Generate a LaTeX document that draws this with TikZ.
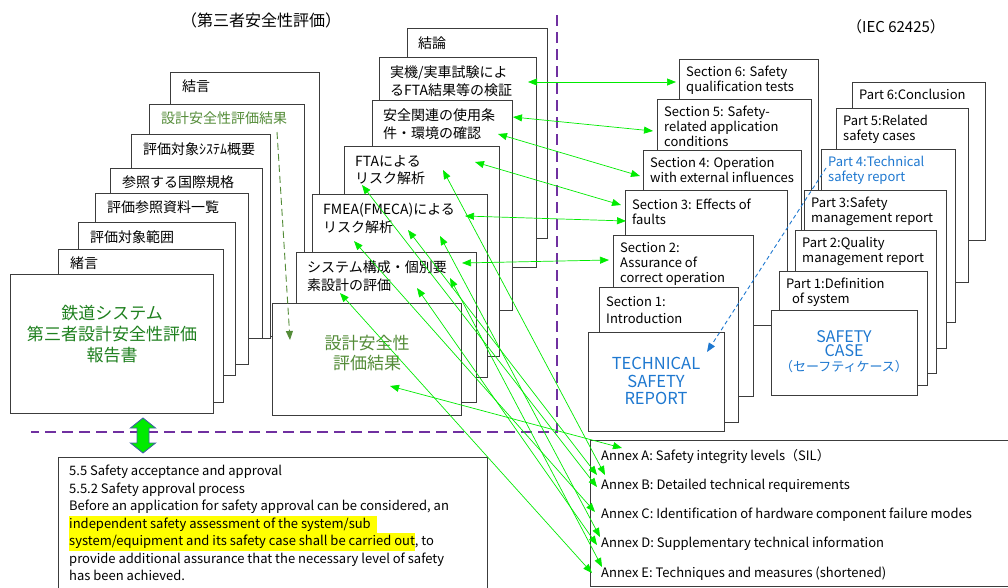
\documentclass[tikz,border=0pt]{standalone}
\usepackage{fontspec}
\setmainfont{Noto Sans CJK JP}
\usetikzlibrary{arrows.meta}

\definecolor{linkgreen}{RGB}{0,235,0}
\definecolor{sepviolet}{RGB}{112,48,160}
\definecolor{evalgreen}{RGB}{84,140,56}
\definecolor{titlegreen}{RGB}{30,128,30}
\definecolor{reportblue}{RGB}{30,120,208}
\definecolor{hilite}{RGB}{255,255,0}
\definecolor{boxgray}{RGB}{60,60,60}
\definecolor{arrowrim}{RGB}{65,100,160}

% one sheet of a stack: style of text, name, x1, y1, x2, y2, text
\newcommand{\stackpage}[7]{%
  \node[pagebox, minimum width={#5-#3}, minimum height={#6-#4}] (#2) at (#3,#4) {};
  \node[#1] (#2-txt) at (#2.north west) {#7};
}
\newcommand{\yellowmark}[1]{{\setlength{\fboxsep}{0pt}\colorbox{hilite}{\strut #1}}}

\begin{document}
\begin{tikzpicture}[x=1pt, y=-1pt,
    pagebox/.style={draw=boxgray, line width=0.9pt, fill=white, anchor=north west, inner sep=0pt},
    ltext/.style={anchor=north west, xshift=12pt, yshift=-8pt, inner sep=0pt, align=left, font=\fontsize{14}{18}\selectfont},
    mtext/.style={anchor=north west, xshift=11pt, yshift=-9pt, inner sep=0pt, align=left, font=\fontsize{14}{17.5}\selectfont},
    rtext/.style={anchor=north west, xshift=7pt, yshift=-7pt, inner sep=0pt, align=left, font=\fontsize{13}{15}\selectfont},
    link/.style={draw=linkgreen, line width=0.7pt, {Triangle[length=9pt,width=7pt]}-{Triangle[length=9pt,width=7pt]}},
    evalarrow/.style={draw=evalgreen, line width=0.9pt, dash pattern=on 7pt off 4pt, -{Triangle[length=9pt,width=7pt]}},
    partarrow/.style={draw=reportblue, line width=0.9pt, dash pattern=on 4pt off 3pt, -{Triangle[length=9pt,width=7pt]}},
    divider/.style={draw=sepviolet, line width=1.3pt, dash pattern=on 11pt off 6pt}]
  \useasboundingbox (0,0) rectangle (1008,587);
  \clip (0,0) rectangle (1008,587);

  % headings
  \node[font=\fontsize{16}{18}\selectfont] (thirdparty) at (261,20) {（第三者安全性評価）};
  \node[font=\fontsize{15}{18}\selectfont] (iec) at (896,27) {（IEC 62425）};

  % third party report (left stack)
  \stackpage{ltext}{concl}{170}{72}{319}{336}{結言}
  \stackpage{ltext, text=evalgreen}{evalres}{149}{104}{304}{336}{設計安全性評価結果}
  \stackpage{ltext}{sysov}{131}{134}{270}{338}{評価対象ｼｽﾃﾑ概要}
  \stackpage{ltext}{stds}{110}{168}{262}{338}{参照する国際規格}
  \stackpage{ltext}{refs}{95}{193}{248}{364}{評価参照資料一覧}
  \stackpage{ltext}{scope}{78}{222}{235}{375}{評価対象範囲}
  \stackpage{ltext}{intro}{58}{249}{223}{402}{緒言}
  \node[pagebox, minimum width=203, minimum height=139] (report) at (10,274) {};
  \node[font=\fontsize{17}{21}\selectfont, align=center, text=titlegreen] (report-txt) at (112,334)
    {鉄道システム\\第三者設計安全性評価\\報告書};

  % design safety evaluation (middle stack)
  \stackpage{mtext}{result}{407}{28}{547}{238}{結論}
  \stackpage{mtext}{verif}{379}{57}{536}{267}{実機/実車試験によ\\るFTA結果等の検証}
  \stackpage{mtext}{cond}{372}{100}{512}{310}{安全関連の使用条\\件・環境の確認}
  \stackpage{mtext}{fta}{344}{146}{499}{356}{FTAによる\\リスク解析}
  \stackpage{mtext}{fmea}{312}{194}{487}{377}{FMEA(FMECA)による\\リスク解析}
  \stackpage{mtext}{sysdes}{296}{252}{476}{402}{システム構成・個別要\\素設計の評価}
  \node[pagebox, minimum width=189, minimum height=112] (evalbox) at (272,303) {};
  \node[font=\fontsize{17}{20}\selectfont, align=center, text=evalgreen] (evalbox-txt) at (367,353)
    {設計安全性\\評価結果};

  % technical safety report
  \stackpage{rtext}{sec6}{679}{59}{818}{325}{Section 6: Safety\\qualification tests}
  \stackpage{rtext}{sec5}{657}{99}{811}{325}{Section 5: Safety-\\related application\\conditions}
  \stackpage{rtext}{sec4}{643}{150}{801}{325}{Section 4: Operation\\with external influences}
  \stackpage{rtext, yshift=-2pt}{sec3}{625}{190}{787}{325}{Section 3: Effects of\\faults}
  \stackpage{rtext}{sec2}{613}{235}{753}{396}{Section 2:\\Assurance of\\correct operation}
  \stackpage{rtext, yshift=-2pt, font=\fontsize{13}{17}\selectfont}{sec1}{599}{287}{738}{422}{Section 1:\\Introduction}
  \node[pagebox, minimum width=136, minimum height=99] (tsr) at (588,332) {};
  \node[font=\fontsize{16.5}{17.5}\selectfont, align=center, text=reportblue] (tsr-txt) at (656,381)
    {TECHNICAL\\SAFETY\\REPORT};

  % safety case
  \stackpage{rtext}{part6}{852}{82}{985}{240}{Part 6:Conclusion}
  \stackpage{rtext}{part5}{836}{108}{968}{282}{Part 5:Related\\safety cases}
  \stackpage{rtext, text=reportblue}{part4}{821}{149}{955}{322}{Part 4:Technical\\safety report}
  \stackpage{rtext}{part3}{804}{190}{946}{348}{Part 3:Safety\\management report}
  \stackpage{rtext}{part2}{795}{230}{936}{373}{Part 2:Quality\\management report}
  \stackpage{rtext}{part1}{779}{271}{927}{385}{Part 1:Definition\\\ \ of system}
  \node[pagebox, minimum width=146, minimum height=85] (safecase) at (771,310) {};
  \node[font=\fontsize{16}{14}\selectfont, align=center, text=reportblue] (safecase-txt) at (844,352)
    {SAFETY\\CASE\\[1pt]{\fontsize{13}{15}\selectfont （セーフティケース）}};

  % dividers
  \draw[divider] (557,15) -- (557,432) -- (31,432);

  % EN 50129 clause
  \node[pagebox, minimum width=429, minimum height=140] (clause) at (58,457) {};
  \node[anchor=north west, inner sep=0pt, align=left, font=\fontsize{13}{17.5}\selectfont] (clause-txt) at (69,465)
    {5.5 Safety acceptance and approval\\
     5.5.2 Safety approval process\\
     Before an application for safety approval can be considered, an\\
     \yellowmark{independent safety assessment of the system/sub\ \ }\\
     \yellowmark{system/equipment and its safety case shall be carried out}, to\\
     provide additional assurance that the necessary level of safety\\
     has been achieved.};
  \filldraw[fill=linkgreen, draw=arrowrim, line width=0.9pt]
    (143,418) -- (155.5,428) -- (149,428) -- (149,443) -- (155.5,443) -- (143,453)
    -- (130.5,443) -- (137,443) -- (137,428) -- (130.5,428) -- cycle;

  % annexes
  \node[pagebox, minimum width=430, minimum height=146] (annexes) at (590,440) {};
  \node[anchor=north west, inner sep=0pt, align=left, font=\fontsize{13}{29.2}\selectfont] (annexes-txt) at (601,449)
    {Annex A: Safety integrity levels（SIL）\\
     Annex B: Detailed technical requirements\\
     Annex C: Identification of hardware component failure modes\\
     Annex D: Supplementary technical information\\
     Annex E: Techniques and measures (shortened)};

  % ends of the links
  \coordinate (verifR) at (528,82);  \coordinate (sec6L) at (676,82);
  \coordinate (condR) at (513,117);  \coordinate (sec5L) at (653,131);
  \coordinate (envR) at (498,134);   \coordinate (sec4L) at (640,176);
  \coordinate (ftaR) at (475,162);   \coordinate (sec3L) at (621,205);
  \coordinate (fmeaR) at (465,216);  \coordinate (sec3Lb) at (626,221);
  \coordinate (sysR) at (462,263);   \coordinate (sec2L) at (609,260);
  \coordinate (ftaA) at (362,185);   \coordinate (ftaB) at (443,170);
  \coordinate (fmeaA) at (408,230);  \coordinate (fmeaB) at (440,236);  \coordinate (fmeaC) at (354,241);
  \coordinate (sysA) at (450,278);   \coordinate (sysB) at (417,288);   \coordinate (sysC) at (340,293);
  \coordinate (evalA) at (390,386);
  \coordinate (annexA) at (622,448);
  \coordinate (annexB1) at (597,475); \coordinate (annexB2) at (605,475); \coordinate (annexB3) at (597,487);
  \coordinate (annexC) at (595,512);
  \coordinate (annexD1) at (600,537); \coordinate (annexD2) at (597,545);
  \coordinate (annexE1) at (602,567); \coordinate (annexE2) at (592,573);
  \coordinate (evalres-mark) at (277,132); \coordinate (evalbox-mark) at (290,340);
  \coordinate (part4-mark) at (826,168);   \coordinate (tsr-mark) at (707,352);

  \draw[evalarrow] (evalres-mark) -- (evalbox-mark);
  \draw[partarrow] (part4-mark) -- (tsr-mark);

  \foreach \from/\to in {verifR/sec6L, condR/sec5L, envR/sec4L, ftaR/sec3L, fmeaR/sec3Lb, sysR/sec2L,
      ftaA/annexB3, ftaB/annexB2, fmeaA/annexB1, fmeaB/annexD1, fmeaC/annexC,
      sysA/annexE1, sysB/annexD2, sysC/annexE2, evalA/annexA}
    \draw[link] (\from) -- (\to);
\end{tikzpicture}
\end{document}
